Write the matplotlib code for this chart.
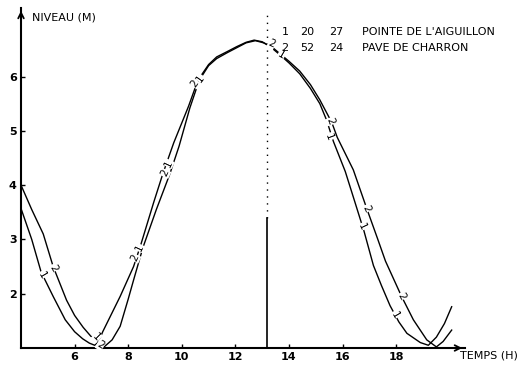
import matplotlib
matplotlib.use('Agg')
import matplotlib.pyplot as plt

plt.rcParams['font.family'] = ['Liberation Sans Narrow', 'DejaVu Sans']

# curve 1 : POINTE DE L'AIGUILLON
t1 = [4.0, 4.4, 4.75, 5.2, 5.65, 6.0, 6.3, 6.55, 6.75, 6.9, 7.05, 7.4, 7.7, 8.2, 8.45,
      8.95, 9.3, 9.7, 10.25, 10.6, 11.0, 11.3, 11.7, 12.05, 12.4, 12.7, 13.0, 13.3,
      13.66, 14.0, 14.4, 14.8, 15.15, 15.4, 15.66, 16.1, 16.4, 16.8, 17.15, 17.45,
      17.77, 18.1, 18.4, 18.9, 19.2, 19.5, 19.8, 20.07]
h1 = [3.57, 3.0, 2.4, 1.95, 1.52, 1.3, 1.17, 1.09, 1.05, 1.12, 1.3, 1.65, 1.95, 2.5, 2.87,
      3.68, 4.22, 4.78, 5.45, 5.93, 6.22, 6.36, 6.46, 6.55, 6.63, 6.67, 6.64, 6.55,
      6.4, 6.25, 6.05, 5.78, 5.5, 5.2, 4.8, 4.25, 3.78, 3.15, 2.52, 2.15,
      1.78, 1.48, 1.27, 1.1, 1.05, 1.2, 1.45, 1.76]

# curve 2 : PAVE DE CHARRON
t2 = [4.0, 4.4, 4.83, 5.2, 5.7, 6.0, 6.32, 6.6, 6.85, 7.1, 7.4, 7.7, 8.0, 8.2, 8.55,
      9.05, 9.55, 9.9, 10.3, 10.65, 11.0, 11.3, 11.7, 12.05, 12.4, 12.75, 13.05, 13.35,
      13.66, 14.0, 14.4, 14.8, 15.15, 15.6, 15.8, 16.4, 16.9, 17.3, 17.6, 18.2, 18.64,
      19.14, 19.5, 19.75, 20.07]
h2 = [4.0, 3.55, 3.1, 2.5, 1.88, 1.6, 1.38, 1.22, 1.12, 1.02, 1.15, 1.4, 1.9, 2.25, 2.85,
      3.55, 4.2, 4.72, 5.42, 5.93, 6.2, 6.33, 6.44, 6.53, 6.62, 6.66, 6.62, 6.55,
      6.42, 6.28, 6.1, 5.85, 5.57, 5.15, 4.88, 4.28, 3.57, 3.02, 2.6, 1.95, 1.52,
      1.15, 1.02, 1.12, 1.33]

# curve labels (x, y, text, rotation)
lab_t = [4.77, 5.2, 6.82, 6.97, 8.25, 8.44, 9.37, 9.5, 10.49, 10.68, 13.35, 13.72,
         15.53, 15.5, 16.9, 16.71, 18.2, 17.95]
lab_h = [2.34, 2.47, 1.2, 1.06, 2.66, 2.84, 4.22, 4.4, 5.87, 5.97, 6.6, 6.4,
         5.17, 4.89, 3.57, 3.23, 1.95, 1.61]
lab_s = ['1', '2', '1', '2', '2', '1', '2', '1', '2', '1', '2', '1',
         '2', '1', '2', '1', '2', '1']
lab_r = [-60, -60, -45, -30, 65, 65, 65, 65, 55, 55, -25, -30,
         -70, -70, -65, -65, -60, -60]

leg_num = ['1', '2']
leg_a = ['20', '52']
leg_b = ['27', '24']
leg_name = ["POINTE DE L'AIGUILLON", 'PAVE DE CHARRON']

W, H = 519, 365
fig = plt.figure(figsize=(W / 100, H / 100), dpi=100)
ax = fig.add_axes([21 / W, 17 / H, 444 / W, 340 / H])
ax.set_xlim(4, 4 + 444 / 26.8)
ax.set_ylim(1, 1 + 340 / 54.3)

ax.plot(t1, h1, color='black', lw=1.0)
ax.plot(t2, h2, color='black', lw=1.0)

for x, y, s, r in zip(lab_t, lab_h, lab_s, lab_r):
    ax.text(x, y, s, rotation=r, ha='center', va='center', fontsize=7.5,
            bbox=dict(facecolor='white', edgecolor='none', pad=0.3))

# vertical marker
tv = 13.17
ax.plot([tv, tv], [1, 3.4], color='black', lw=1.2)
ax.plot([tv, tv], [3.4, 7.2], color='black', lw=1.0, ls=(0, (1, 4)))

for s in ['top', 'right']:
    ax.spines[s].set_visible(False)
for s in ['left', 'bottom']:
    ax.spines[s].set_linewidth(1.5)

ax.annotate('', xy=(1.0, 0), xytext=(0.95, 0), xycoords='axes fraction',
            arrowprops=dict(arrowstyle='->', lw=1.3, color='black'))
ax.annotate('', xy=(0, 1.0), xytext=(0, 0.95), xycoords='axes fraction',
            arrowprops=dict(arrowstyle='->', lw=1.3, color='black'))

ax.set_xticks([6, 8, 10, 12, 14, 16, 18])
ax.set_yticks([2, 3, 4, 5, 6])
ax.tick_params(direction='in', length=3, width=1, labelsize=8, pad=3)
for lb in ax.get_xticklabels() + ax.get_yticklabels():
    lb.set_fontweight('bold')

fig.text(32 / W, 1 - 17 / H, 'NIVEAU (M)', fontsize=8, va='center')
fig.text(460 / W, 1 - 355 / H, 'TEMPS (H)', fontsize=8, va='center')

for i in range(2):
    y = 1 - (32 + 16 * i) / H
    fig.text(285 / W, y, leg_num[i], fontsize=8, va='center', ha='center')
    fig.text(300 / W, y, leg_a[i], fontsize=8, va='center')
    fig.text(329 / W, y, leg_b[i], fontsize=8, va='center')
    fig.text(362 / W, y, leg_name[i], fontsize=8, va='center')

fig.savefig('out.png', dpi=100)
